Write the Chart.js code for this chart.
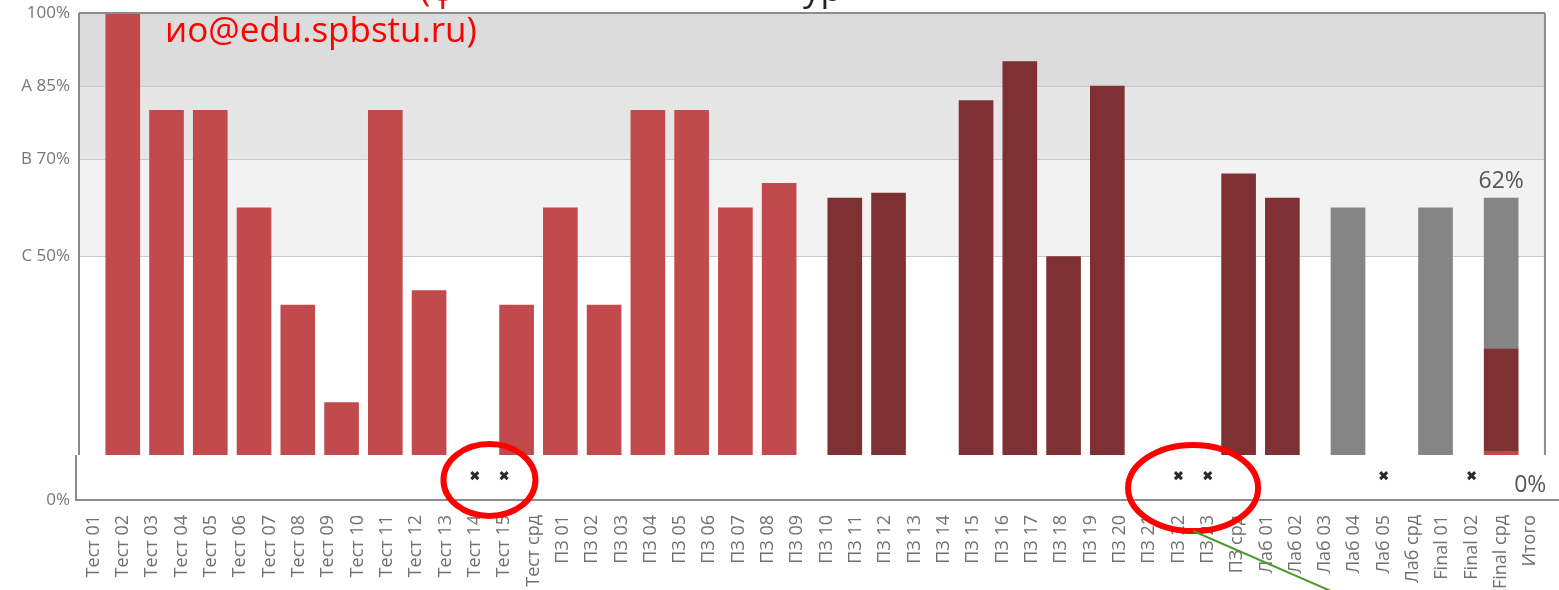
<!DOCTYPE html>
<html lang="ru">
<head>
<meta charset="utf-8">
<title>Оценки</title>
<script src="https://cdn.jsdelivr.net/npm/chart.js@4.4.0/dist/chart.umd.min.js"></script>
<style>
    html, body { margin: 0; padding: 0; background: #fff; }
    #wrap { width: 1559px; height: 590px; position: relative; }
</style>
</head>
<body>
<div id="wrap"><canvas id="grades-chart"></canvas></div>
<script>
// labels under the axis
const categories = [
    'Тест 01', 'Тест 02', 'Тест 03', 'Тест 04', 'Тест 05', 'Тест 06', 'Тест 07', 'Тест 08',
    'Тест 09', 'Тест 10', 'Тест 11', 'Тест 12', 'Тест 13', 'Тест 14', 'Тест 15', 'Тест срд',
    'ПЗ 01', 'ПЗ 02', 'ПЗ 03', 'ПЗ 04', 'ПЗ 05', 'ПЗ 06', 'ПЗ 07', 'ПЗ 08', 'ПЗ 09', 'ПЗ 10',
    'ПЗ 11', 'ПЗ 12', 'ПЗ 13', 'ПЗ 14', 'ПЗ 15', 'ПЗ 16', 'ПЗ 17', 'ПЗ 18', 'ПЗ 19', 'ПЗ 20',
    'ПЗ 21', 'ПЗ 22', 'ПЗ 23', 'ПЗ срд',
    'Лаб 01', 'Лаб 02', 'Лаб 03', 'Лаб 04', 'Лаб 05', 'Лаб срд',
    'Final 01', 'Final 02', 'Final срд', 'Итого'
];

// items without a grade (the little crosses)
const missingItems = ['Тест 14', 'Тест 15', 'ПЗ 22', 'ПЗ 23', 'Лаб 05', 'Final 02'];
const totalScore = 0;   // value printed for "Итого"

// bars, in the bar row of the picture (null = no bar in that slot)
const testBars = [
    null, null, 100, null, 80, null, 80, null, 60, null,
    40, null, 20, null, 80, null, 43, null, null, null,
    40, null, 60, null, 40, null, 80, null, 80, null,
    60, null, 65, null, null, null, null, null, null, null,
    null, null, null, null, null, null, null, null, null, null,
    null, null, null, null, null, null, null, null, null, null,
    null, null, null, null, null, 10, null, null
];
const practiceBars = [
    null, null, null, null, null, null, null, null, null, null,
    null, null, null, null, null, null, null, null, null, null,
    null, null, null, null, null, null, null, null, null, null,
    null, null, null, null, null, 62, null, 63, null, null,
    null, 82, null, 90, null, 50, null, 85, null, null,
    null, null, null, 67, null, 62, null, null, null, null,
    null, null, null, null, null, 21, null, null
];
const labBars = [
    null, null, null, null, null, null, null, null, null, null,
    null, null, null, null, null, null, null, null, null, null,
    null, null, null, null, null, null, null, null, null, null,
    null, null, null, null, null, null, null, null, null, null,
    null, null, null, null, null, null, null, null, null, null,
    null, null, null, null, null, null, null, null, 60, null,
    null, null, 60, null, null, 31, null, null
];
const barSlots = testBars.map((v, i) => String(i));

// grade levels on the left
const gradeTicks = [0, 50, 70, 85, 100];
const gradeTickLabels = ['0%', 'C 50%', 'B 70%', 'A 85%', '100%'];
const gradeBands = [[85, 100], [70, 85], [50, 70]];
const bandColors = ['#dcdcdc', '#e6e6e6', '#f2f2f2'];

const FONT = "'Open Sans', sans-serif";
const MARK_LEVEL = 5;

const paperPlugin = {
    id: 'paper',
    beforeDraw(chart) {
        const { ctx, chartArea: a, scales: { y } } = chart;
        ctx.save();
        ctx.fillStyle = '#fff';
        ctx.fillRect(0, 0, chart.width, chart.height);
        gradeBands.forEach((b, i) => {
            let top = y.getPixelForValue(b[1]);
            let bottom = y.getPixelForValue(b[0]);
            ctx.fillStyle = bandColors[i];
            ctx.fillRect(a.left, top, a.right - a.left, bottom - top);
        });
        ctx.restore();
    },
    afterDatasetsDraw(chart) {
        const { ctx, chartArea: a, scales: { x, xb, y } } = chart;
        ctx.save();

        // white "no grade" strip over the feet of the bars
        let stripTop = a.bottom - 45;
        ctx.fillStyle = '#fff';
        ctx.fillRect(a.left - 3, stripTop, chart.width - a.left + 3, a.bottom - stripTop);
        ctx.strokeStyle = '#8c8c8c';
        ctx.lineWidth = 2;
        ctx.beginPath();
        ctx.moveTo(a.left, a.top);
        ctx.lineTo(a.right, a.top);
        ctx.moveTo(a.left, a.top);
        ctx.lineTo(a.left, stripTop);
        ctx.moveTo(a.right, a.top);
        ctx.lineTo(a.right, stripTop);
        ctx.moveTo(a.left - 3, stripTop);
        ctx.lineTo(a.left - 3, a.bottom);
        ctx.lineTo(chart.width, a.bottom);
        ctx.stroke();

        // crosses for missing grades
        ctx.strokeStyle = '#2a2a2a';
        ctx.lineWidth = 3;
        let my = y.getPixelForValue(MARK_LEVEL);
        missingItems.forEach(c => {
            let mx = x.getPixelForValue(categories.indexOf(c));
            ctx.beginPath();
            ctx.moveTo(mx - 3.5, my - 3.5);
            ctx.lineTo(mx + 3.5, my + 3.5);
            ctx.moveTo(mx + 3.5, my - 3.5);
            ctx.lineTo(mx - 3.5, my + 3.5);
            ctx.stroke();
        });

        // value labels
        ctx.fillStyle = '#555';
        ctx.font = '23px ' + FONT;
        ctx.textAlign = 'center';
        ctx.textBaseline = 'alphabetic';
        barSlots.forEach((s, i) => {
            let parts = [testBars[i], practiceBars[i], labBars[i]].filter(v => v != null);
            if (parts.length < 2) return;
            let sum = parts.reduce((p, v) => p + v, 0);
            ctx.fillText(sum + '%', xb.getPixelForValue(i), y.getPixelForValue(sum) - 10);
        });
        ctx.fillText(totalScore + '%', x.getPixelForValue(categories.indexOf('Итого')), a.bottom - 8);
        ctx.restore();
    },
    afterDraw(chart) {
        // hand-drawn marks on top of the screenshot
        const { ctx, chartArea: a, scales: { x } } = chart;
        ctx.save();
        ctx.strokeStyle = '#ff0000';
        ctx.lineWidth = 6;
        let mid = (p, q) => (x.getPixelForValue(categories.indexOf(p)) + x.getPixelForValue(categories.indexOf(q))) / 2;
        let e1 = mid('Тест 14', 'Тест 15');
        ctx.beginPath();
        ctx.ellipse(e1, a.bottom - 20, 46, 36, 0, 0, Math.PI * 2);
        ctx.stroke();
        let e2 = mid('ПЗ 22', 'ПЗ 23');
        ctx.beginPath();
        ctx.ellipse(e2, a.bottom - 12, 65, 43, 0, 0, Math.PI * 2);
        ctx.stroke();
        ctx.strokeStyle = '#4c9a32';
        ctx.lineWidth = 2;
        ctx.beginPath();
        ctx.moveTo(e2, a.bottom + 31);
        ctx.lineTo(e2 + 140, a.bottom + 92);
        ctx.stroke();

        ctx.font = '35px ' + FONT;
        ctx.textAlign = 'left';
        ctx.textBaseline = 'alphabetic';
        ctx.fillStyle = '#ff0000';
        ctx.fillText('(ф', 420, 1);
        ctx.fillText('ио@edu.spbstu.ru)', 165, 42);
        ctx.fillStyle = '#222';
        ctx.fillText('ур', 803, 1);
        ctx.restore();
    }
};

const ctx = document.getElementById('grades-chart');
new Chart(ctx, {
    type: 'bar',
    data: {
        datasets: [{
            label: 'Тест',
            data: testBars,
            xAxisID: 'xb',
            backgroundColor: '#c14a4d',
            barThickness: 34
        }, {
            label: 'ПЗ',
            data: practiceBars,
            xAxisID: 'xb',
            backgroundColor: '#7e3032',
            barThickness: 34
        }, {
            label: 'Лаб / Final',
            data: labBars,
            xAxisID: 'xb',
            backgroundColor: '#858585',
            barThickness: 34
        }]
    },
    options: {
        responsive: true,
        maintainAspectRatio: false,
        animation: false,
        layout: { padding: { top: 13, right: 14, left: 0, bottom: 0 } },
        plugins: {
            legend: { display: false },
            tooltip: { enabled: false }
        },
        scales: {
            x: {
                type: 'category',
                labels: categories,
                offset: true,
                grid: { display: false },
                border: { display: false },
                ticks: {
                    autoSkip: false,
                    minRotation: 90,
                    maxRotation: 90,
                    padding: 7,
                    color: '#707070',
                    font: { family: FONT, size: 18 }
                },
                afterFit: (scale) => { scale.height = 90; }
            },
            xb: {
                type: 'category',
                labels: barSlots,
                offset: false,
                stacked: true,
                display: false
            },
            y: {
                min: 0,
                max: 100,
                stacked: true,
                afterBuildTicks: (scale) => {
                    scale.ticks = gradeTicks.map(v => ({ value: v }));
                },
                ticks: {
                    padding: 9,
                    color: '#777',
                    font: { family: FONT, size: 17 },
                    callback: (v) => gradeTickLabels[gradeTicks.indexOf(v)]
                },
                grid: {
                    drawTicks: false,
                    color: (c) => (c.tick && (c.tick.value === 0 || c.tick.value === 100)) ? 'rgba(0,0,0,0)' : '#c9c9c9'
                },
                border: { display: false },
                afterFit: (scale) => {
                    scale.width = 79;
                    scale.paddingTop = 0;
                    scale.paddingBottom = 0;
                }
            }
        }
    },
    plugins: [paperPlugin]
});
</script>
</body>
</html>
